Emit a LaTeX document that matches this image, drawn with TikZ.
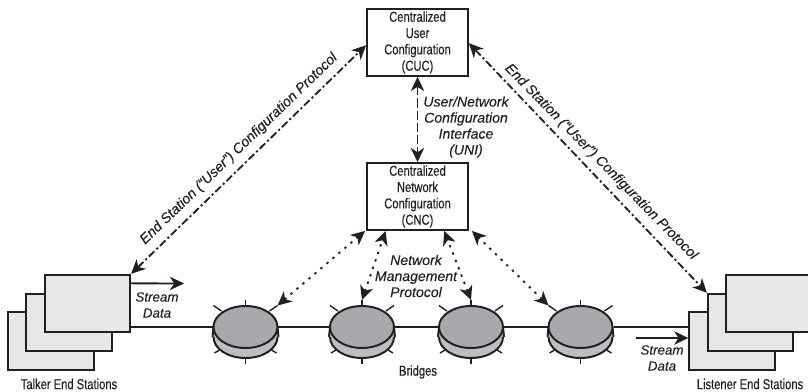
\documentclass[tikz,border=0pt]{standalone}
\usepackage{fontspec}
\setmainfont{Liberation Sans}
\newfontfamily\condfont[FakeStretch=0.78,FakeBold=0.25]{Liberation Sans}
\newfontfamily\slantfont[FakeBold=0.1]{Liberation Sans Italic}
\usepackage{tikz}
\usetikzlibrary{arrows.meta,shapes.geometric,positioning,calc}
\definecolor{inkblack}{HTML}{231F20}
\definecolor{stationgray}{HTML}{E6E7E8}
\definecolor{disktop}{HTML}{A7A9AC}
\definecolor{diskside}{HTML}{BCBEC0}
\tikzset{
    >={Stealth[length=10pt,width=9.5pt,inset=3pt]},
    configbox/.style={draw=inkblack, line width=1.5pt, minimum width=2.52cm, minimum height=1.67cm,
        inner sep=0pt, align=center, text=inkblack, font=\condfont\fontsize{10.2}{11.6}\selectfont},
    stationbox/.style={draw=inkblack, line width=1.5pt, fill=stationgray, minimum width=2.13cm, minimum height=1.43cm},
    disktopshape/.style={ellipse, draw=inkblack, line width=1.4pt, fill=disktop, minimum width=1.6cm, minimum height=1.05cm, inner sep=0pt},
    diskbaseshape/.style={ellipse, draw=inkblack, line width=1.4pt, fill=diskside, minimum width=1.6cm, minimum height=1.05cm, inner sep=0pt},
    link/.style={draw=inkblack, line width=1.3pt},
    userlink/.style={link, <->, dash pattern=on 5.5pt off 2pt on 1.5pt off 2pt},
    unilink/.style={link, <->, dash pattern=on 6.5pt off 2.2pt},
    mgmtlink/.style={link, <->, dash pattern=on 1.7pt off 3.9pt},
    flowlabel/.style={inner sep=0pt, align=center, text=inkblack, font=\slantfont\fontsize{10}{11.4}\selectfont},
    streamlabel/.style={flowlabel, font=\slantfont\fontsize{9.5}{11.4}\selectfont},
    caption/.style={inner sep=0pt, text=inkblack, font=\condfont\fontsize{10.2}{11}\selectfont},
}
\newcommand{\bridgedisk}[2]{%
    \begin{scope}[shift={(#2,327)}]
        \foreach \tickx/\ticky/\tockx/\tocky in {-32/-21.5/-24/-16, 32/-21.5/24/-16, 0/-27/0/-20,
                -31/26/-26/23, 31/26/26/23, 0/37/0/30}
            \draw[link, line width=1pt] (\tickx,\ticky) -- (\tockx,\tocky);
        \node[diskbaseshape] (#1base) at (0,10) {};
        \fill[diskside] (#1base.west) rectangle (32,0);
        \draw[link, line width=1.4pt] (-32,0) -- (#1base.west);
        \draw[link, line width=1.4pt] (32,0) -- (#1base.east);
        \node[disktopshape] (#1) at (0,0) {};
        \coordinate (#1up) at (0,-27);
        \coordinate (#1nw) at (-32,-21.5);
        \coordinate (#1ne) at (32,-21.5);
    \end{scope}
}

\begin{document}
\begin{tikzpicture}[x=0.025cm, y=-0.025cm]
    \useasboundingbox (0,0) rectangle (808,392);

    % Configuration boxes
    \node[configbox] (cuc) at (417.5,42.5) {Centralized\\User\\Configuration\\(CUC)};
    \node[configbox] (cnc) at (417.5,196.5) {Centralized\\Network\\Configuration\\(CNC)};

    % Talker stations
    \node[stationbox] (talkerA) at (51,341) {};
    \node[stationbox] (talkerB) at (69,322.5) {};
    \node[stationbox] (talkerC) at (87.5,303.5) {};
    \node[caption] (talkerlabel) at (69,384) {Talker End Stations};

    % Listener stations
    \node[stationbox] (listenerA) at (732,341) {};
    \node[stationbox] (listenerB) at (750.5,322.5) {};
    \node[stationbox] (listenerC) at (769,303.5) {};
    \node[caption] (listenerlabel) at (750,384) {Listener End Stations};

    % Bridges
    \bridgedisk{bridgeA}{245.5}
    \bridgedisk{bridgeB}{362}
    \bridgedisk{bridgeC}{471}
    \bridgedisk{bridgeD}{580.5}
    \node[caption] (bridgelabel) at (418,372) {Bridges};

    % Data path
    \draw[link] (talkerC.east |- bridgeA.west) -- (bridgeA.west);
    \draw[link] (bridgeA.east) -- (bridgeB.west);
    \draw[link] (bridgeB.east) -- (bridgeC.west);
    \draw[link] (bridgeC.east) -- (bridgeD.west);
    \draw[link] (bridgeD.east) -- (listenerA.west |- bridgeD.east);

    % Stream arrows
    \coordinate (talkerout) at ($(talkerC.north east)!0.16!(talkerC.south east)$);
    \coordinate (talkerend) at (184,283.5);
    \draw[link, ->] (talkerout) -- (talkerend);
    \node[streamlabel] (talkerstream) at (157,305) {Stream\\Data};
    \coordinate (listenerstart) at (636,338);
    \draw[link, ->] (listenerstart) -- (listenerA.west |- listenerstart);
    \node[streamlabel] (listenerstream) at (662,358) {Stream\\Data};

    % User configuration
    \coordinate (cucleft) at ($(cuc.north west)!0.54!(cuc.south west)$);
    \coordinate (cucright) at ($(cuc.north east)!0.51!(cuc.south east)$);
    \draw[userlink] (talkerC.north east) -- (cucleft);
    \draw[userlink] (cucright) -- (listenerB.north west);
    \node[flowlabel, rotate=44] (userleft) at (239,149) {End Station (“User”) Configuration Protocol};
    \node[flowlabel, rotate=-45.5] (userright) at (601,162) {End Station (“User”) Configuration Protocol};

    % UNI
    \draw[unilink] (cuc.south) -- (cnc.north);
    \node[flowlabel] (unilabel) at (466,127) {User/Network\\Configuration\\Interface\\(UNI)};

    % Network management
    \coordinate (cncA) at ($(cnc.south west)+(-1,0)$);
    \coordinate (cncB) at ($(cnc.south west)!0.19!(cnc.south east)$);
    \coordinate (cncC) at ($(cnc.south west)!0.76!(cnc.south east)$);
    \coordinate (cncD) at ($(cnc.south east)+(3,0)$);
    \draw[mgmtlink] (bridgeAne) -- (cncA);
    \draw[mgmtlink] (bridgeBup) -- (cncB);
    \draw[mgmtlink] (bridgeCup) -- (cncC);
    \draw[mgmtlink] (bridgeDnw) -- (cncD);
    \node[flowlabel] (mgmtlabel) at (416,276) {Network\\Management\\Protocol};
\end{tikzpicture}
\end{document}
